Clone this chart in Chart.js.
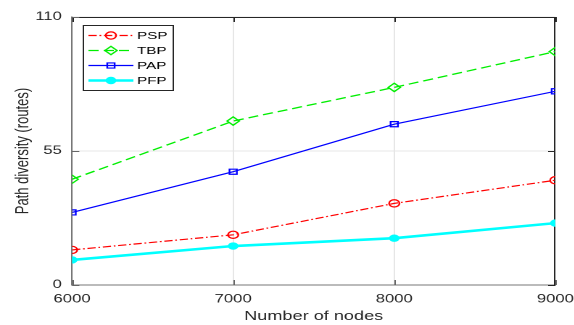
<!DOCTYPE html>
<html>
<head>
<meta charset="utf-8">
<script src="https://cdn.jsdelivr.net/npm/chart.js@4"></script>
<style>
  html, body { margin: 0; padding: 0; background: #fff; overflow: hidden; }
  /* the figure is drawn narrow and widened, like the exported plot */
  #wrap { width: 396px; height: 325px; transform: scaleX(1.45); transform-origin: 0 0; }
</style>
</head>
<body>
<div id="wrap"><canvas id="myChart" width="396" height="325"></canvas></div>
<script>
// data
const nodes = [6000, 7000, 8000, 9000];
const psp = [14.4, 20.6, 33.5, 43.0];
const tbp = [43.4, 67.3, 81.1, 95.8];
const pap = [29.8, 46.5, 66.0, 79.5];
const pfp = [10.3, 16.0, 19.2, 25.4];
const yTicks = [0, 55, 110];

const FONT = '"Liberation Sans", Arial, sans-serif';
const pts = vals => vals.map((v, i) => ({ x: nodes[i], y: v }));

const series = [
  { label: 'PSP', data: pts(psp), color: '#ff0000', dash: [5.7, 1.9, 1.2, 1.9], width: 1.2, style: 'circle', r: 3.6, fill: false },
  { label: 'TBP', data: pts(tbp), color: '#00ee00', dash: [7, 3.5], width: 1.3, style: 'rectRot', r: 4.2, fill: false },
  { label: 'PAP', data: pts(pap), color: '#0000ff', dash: [], width: 1.2, style: 'rect', r: 3.6, fill: false },
  { label: 'PFP', data: pts(pfp), color: '#00ffff', dash: [], width: 2.6, style: 'circle', r: 3.1, fill: true }
];

function drawMarker(ctx, s, x, y) {
  ctx.beginPath();
  if (s.style === 'circle') {
    ctx.arc(x, y, s.r, 0, Math.PI * 2);
  } else if (s.style === 'rectRot') {
    ctx.moveTo(x - s.r, y); ctx.lineTo(x, y - s.r);
    ctx.lineTo(x + s.r, y); ctx.lineTo(x, y + s.r);
    ctx.closePath();
  } else {
    const h = s.r * Math.SQRT1_2;
    ctx.rect(x - h, y - h, 2 * h, 2 * h);
  }
  if (s.fill) { ctx.fillStyle = s.color; ctx.fill(); }
  ctx.stroke();
}

// box lines on top/right and inward tick marks
const frame = {
  id: 'frame',
  beforeDatasetsDraw(chart) {
    const { ctx, chartArea: a, scales: { x, y } } = chart;
    ctx.save();
    ctx.lineWidth = 1;
    ctx.strokeStyle = '#262626';
    ctx.beginPath();
    ctx.moveTo(a.left, a.top + 0.5); ctx.lineTo(a.right - 0.5, a.top + 0.5);
    ctx.lineTo(a.right - 0.5, a.bottom);
    ctx.stroke();
    const len = 5;
    x.ticks.forEach(t => {
      const px = Math.round(x.getPixelForValue(t.value)) + 0.5;
      ctx.strokeStyle = '#262626';
      ctx.beginPath(); ctx.moveTo(px, a.top); ctx.lineTo(px, a.top + len); ctx.stroke();
      ctx.strokeStyle = '#666';
      ctx.beginPath(); ctx.moveTo(px, a.bottom); ctx.lineTo(px, a.bottom - len); ctx.stroke();
    });
    y.ticks.forEach(t => {
      const py = Math.round(y.getPixelForValue(t.value)) + 0.5;
      ctx.strokeStyle = '#666';
      ctx.beginPath(); ctx.moveTo(a.left, py); ctx.lineTo(a.left + len, py); ctx.stroke();
      ctx.strokeStyle = '#262626';
      ctx.beginPath(); ctx.moveTo(a.right, py); ctx.lineTo(a.right - len, py); ctx.stroke();
    });
    ctx.restore();
  }
};

// legend box in the upper left corner of the axes
const boxLegend = {
  id: 'boxLegend',
  afterDraw(chart) {
    const ctx = chart.ctx;
    const bx = 57.5, by = 25.5, bw = 62, bh = 65;
    ctx.save();
    ctx.fillStyle = '#fff';
    ctx.fillRect(bx, by, bw, bh);
    ctx.strokeStyle = '#262626';
    ctx.lineWidth = 1;
    ctx.strokeRect(bx, by, bw, bh);
    ctx.font = '10.5px ' + FONT;
    ctx.textBaseline = 'middle';
    series.forEach((s, i) => {
      const yy = 35.5 + i * 15;
      ctx.strokeStyle = s.color;
      ctx.lineWidth = s.width;
      ctx.setLineDash(s.dash);
      ctx.beginPath(); ctx.moveTo(61, yy); ctx.lineTo(92, yy); ctx.stroke();
      ctx.setLineDash([]);
      ctx.lineWidth = 1.2;
      drawMarker(ctx, s, 76.5, yy);
      ctx.fillStyle = '#000';
      ctx.fillText(s.label, 94.5, yy + 0.5);
    });
    ctx.restore();
  }
};

const config = {
  type: 'line',
  data: {
    datasets: series.map(s => ({
      label: s.label,
      data: s.data,
      borderColor: s.color,
      borderWidth: s.width,
      borderDash: s.dash,
      pointStyle: s.style,
      pointRadius: s.r,
      pointBorderWidth: 1.2,
      pointBorderColor: s.color,
      pointBackgroundColor: s.fill ? s.color : 'rgba(0,0,0,0)',
      tension: 0
    }))
  },
  options: {
    responsive: false,
    devicePixelRatio: 2,
    animation: false,
    layout: { padding: { top: 17, right: 13, bottom: 0, left: 0 } },
    plugins: { legend: { display: false }, tooltip: { enabled: false } },
    scales: {
      x: {
        type: 'linear',
        min: 6000, max: 9000,
        ticks: { stepSize: 1000, padding: 7.5, color: '#262626', font: { family: FONT, size: 11.5 }, callback: v => String(v) },
        grid: { color: '#e6e6e6', drawTicks: false },
        border: { color: '#777' },
        title: { display: true, text: 'Number of nodes', color: '#262626', font: { family: FONT, size: 12.5 }, padding: { top: 0, bottom: 1 } },
        afterFit: s => { s.height = 40; s.paddingLeft = 0; s.paddingRight = 0; }
      },
      y: {
        min: 0, max: 110,
        afterBuildTicks: s => { s.ticks = yTicks.map(v => ({ value: v })); },
        ticks: { padding: 7, color: '#262626', font: { family: FONT, size: 11.5 } },
        grid: { color: '#e6e6e6', drawTicks: false },
        border: { color: '#777' },
        title: { display: true, text: 'Path diversity (routes)', color: '#262626', font: { family: FONT, size: 13 }, padding: { top: 8, bottom: 0 } },
        afterFit: s => { s.width = 49.7; s.paddingTop = 0; s.paddingBottom = 0; }
      }
    }
  },
  plugins: [frame, boxLegend]
};

const myChart = new Chart(document.getElementById('myChart'), config);
</script>
</body>
</html>
